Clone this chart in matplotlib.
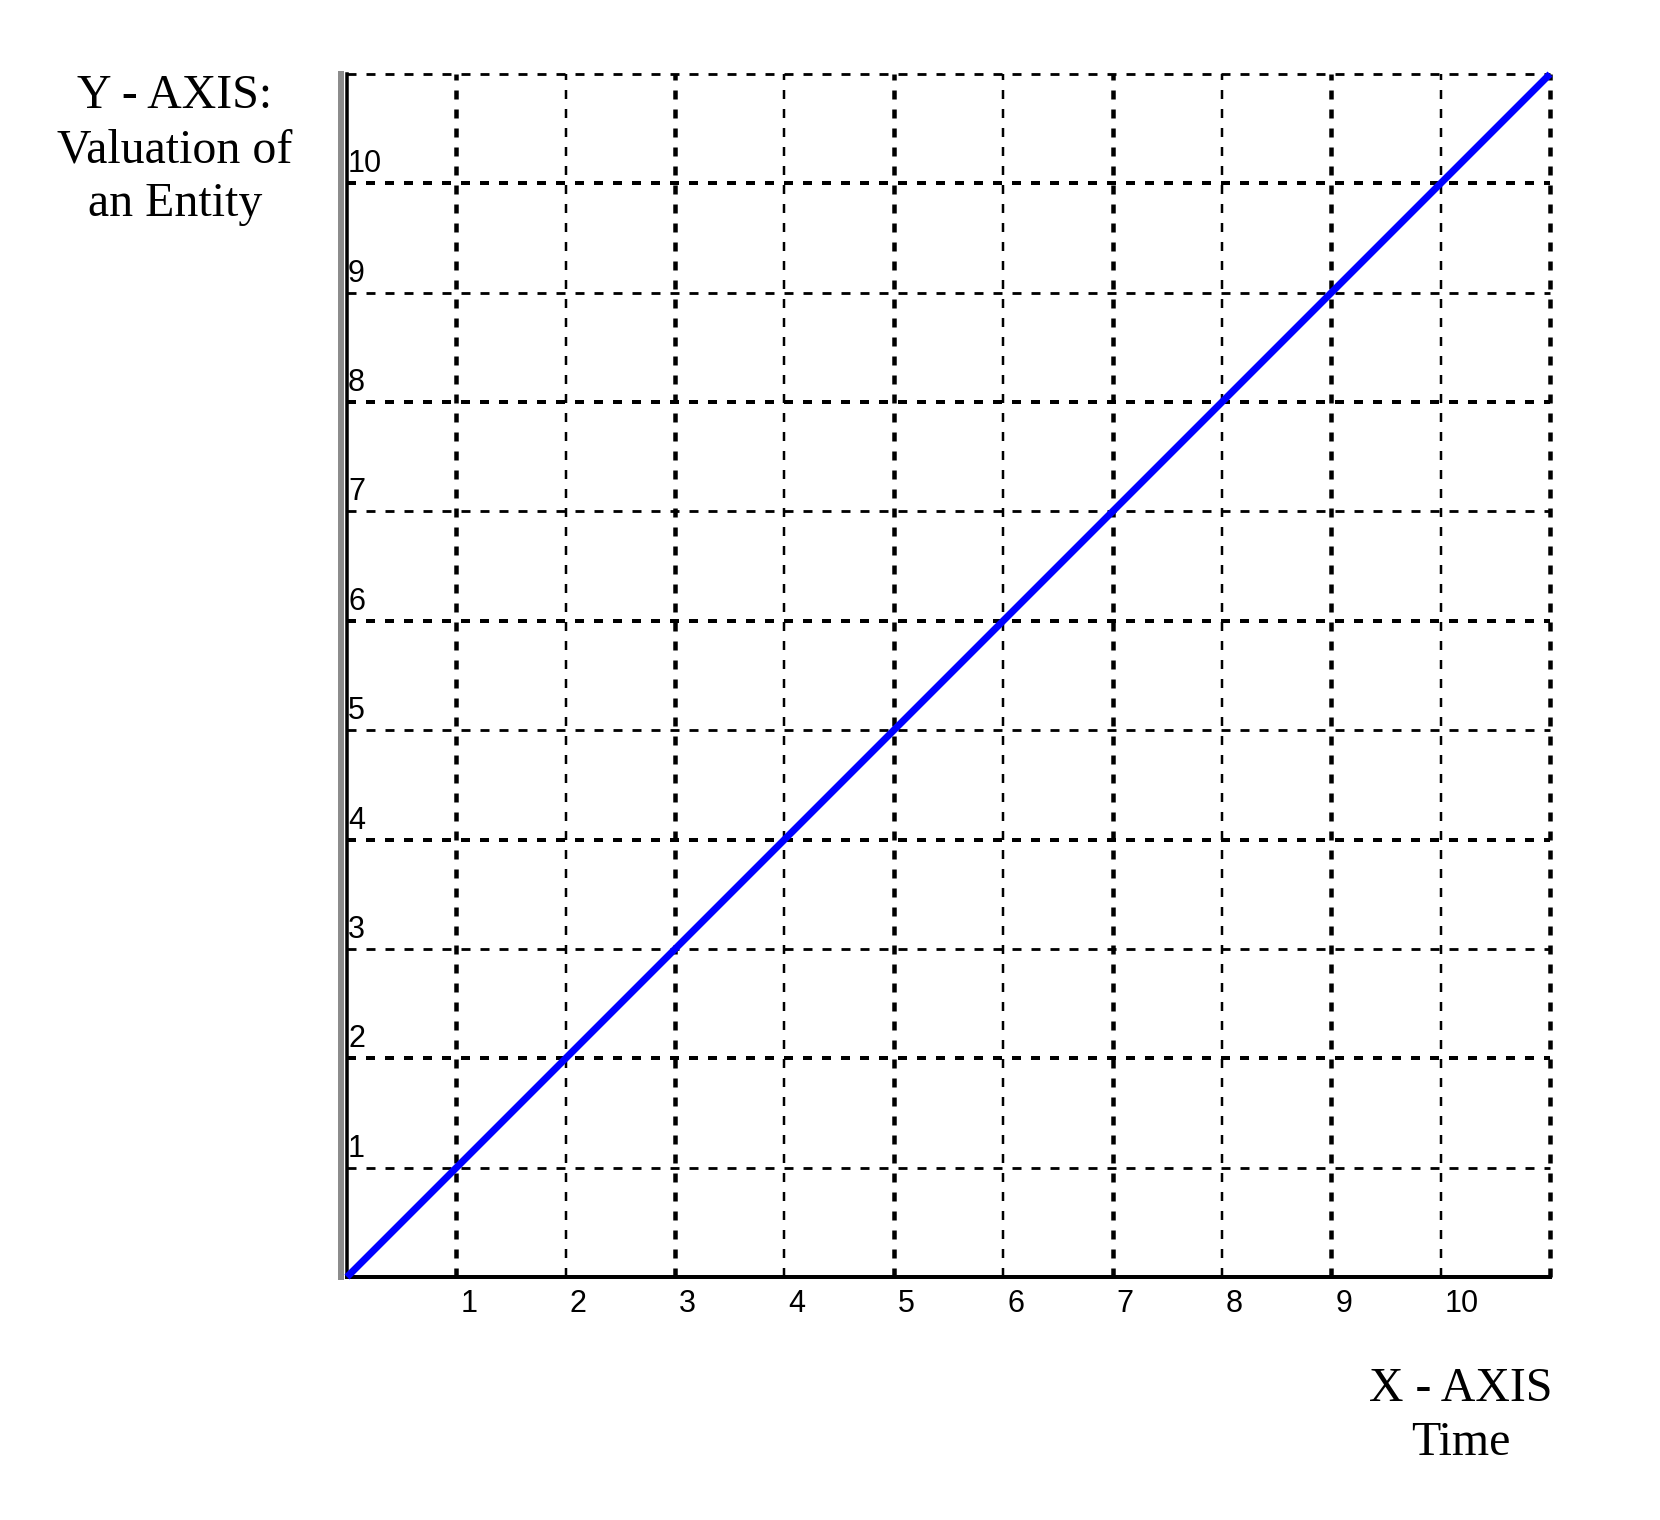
import matplotlib
matplotlib.use("Agg")
import matplotlib.pyplot as plt
import matplotlib.transforms as mtransforms

# Data
time_values = [0, 11]
valuation_values = [0, 11]
x_ticks = [1, 2, 3, 4, 5, 6, 7, 8, 9, 10]
y_ticks = [1, 2, 3, 4, 5, 6, 7, 8, 9, 10]
grid_positions = [1, 2, 3, 4, 5, 6, 7, 8, 9, 10, 11]
x_tick_labels = [str(v) for v in x_ticks]
y_tick_labels = [str(v) for v in y_ticks]
y_title = "Y - AXIS:\nValuation of\nan Entity"
x_title = "X - AXIS\nTime"

plt.rcParams['lines.scale_dashes'] = False

W, H, DPI = 1660, 1520, 100
fig = plt.figure(figsize=(W / DPI, H / DPI), dpi=DPI)
fig.patch.set_facecolor("white")

px = 72.0 / DPI  # points per pixel

L, R, T, B = 347, 1550, 74, 1277
ax = fig.add_axes([L / W, 1 - B / H, (R - L) / W, (B - T) / H])
ax.set_xlim(0, 11)
ax.set_ylim(0, 11)

# spines
for s in ["top", "right"]:
    ax.spines[s].set_visible(False)
ax.spines["bottom"].set_linewidth(4 * px)
ax.spines["bottom"].set_color("black")
ax.spines["left"].set_color("#8c8c8c")
ax.spines["left"].set_linewidth(6 * px)
ax.spines["left"].set_position(("outward", 4))
ax.axvline(0, color="black", lw=3.5 * px, zorder=3, clip_on=False)

ax.set_xticks([])
ax.set_yticks([])

dash = (0, (9 * px, 10 * px))

# gridlines
for g in grid_positions:
    vlw = 4.5 * px if g % 2 == 1 else 2.5 * px
    hlw = 4 * px if g % 2 == 0 else 2.8 * px
    ax.axvline(g, color="black", lw=vlw, linestyle=dash, dash_capstyle="butt",
               clip_on=False, zorder=1)
    ax.axhline(g, color="black", lw=hlw, linestyle=dash, dash_capstyle="butt",
               clip_on=False, zorder=1)

# data line
ax.plot(time_values, valuation_values, color="#0000FF", lw=7 * px,
        solid_capstyle="butt", zorder=4, clip_on=False)

# tick labels
tick_font = dict(family="Liberation Sans", fontsize=22, color="black")
xtrans = mtransforms.blended_transform_factory(ax.transData, ax.transAxes)
for v, lab in zip(x_ticks, x_tick_labels):
    off = mtransforms.ScaledTranslation(4 / DPI, -35 / DPI, fig.dpi_scale_trans)
    ax.text(v, 0, lab, transform=xtrans + off, ha="left", va="baseline",
            **tick_font)
ytrans = mtransforms.blended_transform_factory(ax.transAxes, ax.transData)
for v, lab in zip(y_ticks, y_tick_labels):
    off = mtransforms.ScaledTranslation(1 / DPI, 11 / DPI, fig.dpi_scale_trans)
    ax.text(0, v, lab, transform=ytrans + off, ha="left", va="baseline",
            **tick_font)

# titles
fig.text(175 / W, 1 - 74 / H, y_title, ha="center", va="top",
         multialignment="center", family="Liberation Serif", fontsize=34.5,
         linespacing=1.30)
fig.text(1461 / W, 1 - 1367 / H, x_title, ha="center", va="top",
         multialignment="center", family="Liberation Serif", fontsize=34.5,
         linespacing=1.30)

fig.savefig("out.png", dpi=DPI, facecolor="white")
